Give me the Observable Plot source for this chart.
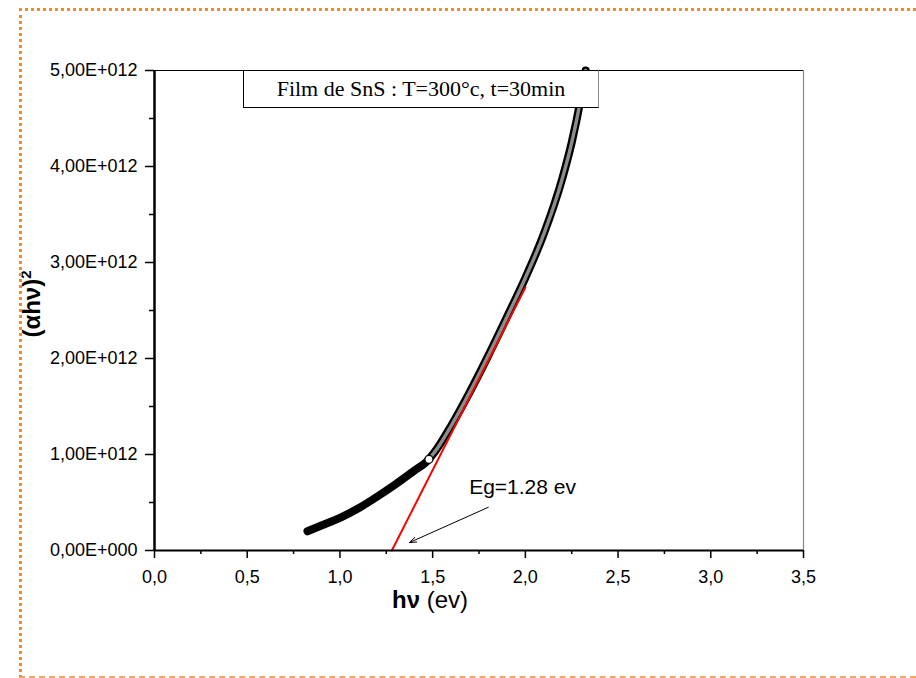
<!DOCTYPE html>
<html>
<head>
<meta charset="utf-8">
<script src="https://cdn.jsdelivr.net/npm/d3@7"></script>
<script src="https://cdn.jsdelivr.net/npm/@observablehq/plot@0.6"></script>
<style>
  html, body { margin: 0; padding: 0; background: white; }
  #wrap { position: relative; width: 916px; height: 678px; overflow: hidden; }
  #frame { position: absolute; left: 19px; top: 8px; width: 897px; height: 670px; box-sizing: border-box;
    border-top: 3px dotted #f28a26; border-left: 3px dotted #f28a26; border-bottom: 2px dashed #f4a668; pointer-events: none; }
  #titlebox { position: absolute; left: 243px; top: 70px; width: 356px; height: 38px; box-sizing: border-box;
    border: 1px solid black; border-right-color: #888; background: white; display: flex; align-items: center; justify-content: center;
    font-family: "Liberation Serif", "Times New Roman", serif; font-size: 22px; color: black; white-space: nowrap; }
  #xlabel { position: absolute; left: 392px; top: 588px; font-family: "Liberation Sans", Arial, sans-serif; font-size: 24px; line-height: 1; white-space: nowrap; color: black; }
  #ylabel { position: absolute; left: 31px; top: 304px; transform: translate(-50%, -50%) rotate(-90deg);
    font-family: "Liberation Sans", Arial, sans-serif; font-size: 24px; font-weight: bold; line-height: 1; white-space: nowrap; color: black; }
  #ylabel sup { font-size: 15px; }
</style>
</head>
<body>
<div id="wrap">
  <div id="chart"></div>
  <div id="titlebox"></div>
  <div id="xlabel"><b>hν</b> (ev)</div>
  <div id="ylabel">(αhν)<sup>2</sup></div>
  <div id="frame"></div>
</div>
<script>
// ---- data ----
const titleText = "Film de SnS : T=300°c, t=30min";

const xTicks = [0, 0.5, 1, 1.5, 2, 2.5, 3, 3.5];
const xTickLabels = ["0,0", "0,5", "1,0", "1,5", "2,0", "2,5", "3,0", "3,5"];
const xMinorTicks = [0.25, 0.75, 1.25, 1.75, 2.25, 2.75, 3.25];

const yTicks = [0, 1e12, 2e12, 3e12, 4e12, 5e12];
const yTickLabels = ["0,00E+000", "1,00E+012", "2,00E+012", "3,00E+012", "4,00E+012", "5,00E+012"];
const yMinorTicks = [0.5e12, 1.5e12, 2.5e12, 3.5e12, 4.5e12];

// measured (alpha h nu)^2 vs h nu — lower branch and upper branch
const lowEnergy = [0.825, 0.90, 1.00, 1.10, 1.20, 1.30, 1.40, 1.47];
const lowValue = [0.20e12, 0.26e12, 0.34e12, 0.44e12, 0.56e12, 0.69e12, 0.83e12, 0.93e12];
const highEnergy = [1.47, 1.52, 1.60, 1.70, 1.80, 1.90, 2.00, 2.10, 2.20, 2.25, 2.30, 2.325];
const highValue = [0.93e12, 1.05e12, 1.30e12, 1.65e12, 2.03e12, 2.43e12, 2.84e12, 3.30e12, 3.88e12, 4.25e12, 4.72e12, 5.00e12];

// linear fit (Tauc extrapolation)
const fitEnergy = [1.28, 2.00];
const fitValue = [0, 2.74e12];

// highlighted open point
const markerEnergy = [1.48];
const markerValue = [0.95e12];

// annotation
const annotationText = ["Eg=1.28 ev"];
const annotationEnergy = [1.985];
const annotationValue = [0.66e12];
const arrowFrom = [1.80, 0.45e12];
const arrowTo = [1.375, 0.083e12];

// ---- build ----
const low = lowEnergy.map((x, i) => ({x, y: lowValue[i]}));
const high = highEnergy.map((x, i) => ({x, y: highValue[i]}));
const curve = low.concat(high.slice(1));
const fit = fitEnergy.map((x, i) => ({x, y: fitValue[i]}));
const marker = markerEnergy.map((x, i) => ({x, y: markerValue[i]}));
const annot = annotationText.map((t, i) => ({t, x: annotationEnergy[i], y: annotationValue[i]}));
const arrows = [{x1: arrowFrom[0], y1: arrowFrom[1], x2: arrowTo[0], y2: arrowTo[1]}];

document.getElementById("titlebox").textContent = titleText;

const chart = Plot.plot({
  width: 916,
  height: 678,
  marginLeft: 154,
  marginRight: 113,
  marginTop: 70,
  marginBottom: 128,
  x: {domain: [0, 3.5]},
  y: {domain: [0, 5e12]},
  style: {fontFamily: '"Liberation Sans", Arial, sans-serif', fontSize: "18px", color: "black", background: "white"},
  marks: [
    Plot.ruleY([5e12], {stroke: "black", strokeWidth: 1}),
    Plot.ruleX([3.5], {stroke: "#888", strokeWidth: 1.2}),
    Plot.line(curve, {x: "x", y: "y", stroke: "black", strokeWidth: 8, strokeLinecap: "round", curve: "monotone-x"}),
    Plot.line(high, {x: "x", y: "y", stroke: "white", strokeWidth: 3.5, strokeOpacity: 0.55, strokeDasharray: "1.2,1.2", curve: "monotone-x"}),
    Plot.line(fit, {x: "x", y: "y", stroke: "red", strokeWidth: 2}),
    Plot.dot(marker, {x: "x", y: "y", r: 4, fill: "white", stroke: "black", strokeWidth: 1.2}),
    Plot.arrow(arrows, {x1: "x1", y1: "y1", x2: "x2", y2: "y2", stroke: "black", strokeWidth: 1, headLength: 11, headAngle: 40}),
    Plot.text(annot, {x: "x", y: "y", text: "t", fontSize: 21, fill: "black", textAnchor: "middle"}),
    Plot.axisX(xTicks, {anchor: "bottom", tickSize: 8, tickPadding: 12, strokeWidth: 1.5, fontSize: 18, label: null,
      tickFormat: d => xTickLabels[xTicks.indexOf(d)]}),
    Plot.axisX(xMinorTicks, {anchor: "bottom", tickSize: 4, strokeWidth: 1.5, label: null, tickFormat: () => ""}),
    Plot.axisY(yTicks, {anchor: "left", tickSize: 9, tickPadding: 8, strokeWidth: 1.5, fontSize: 18, label: null,
      tickFormat: d => yTickLabels[yTicks.indexOf(d)]}),
    Plot.axisY(yMinorTicks, {anchor: "left", tickSize: 5, strokeWidth: 1.5, label: null, tickFormat: () => ""}),
    Plot.ruleY([0], {stroke: "black", strokeWidth: 2}),
    Plot.ruleX([0], {stroke: "black", strokeWidth: 2.5})
  ]
});
document.getElementById("chart").appendChild(chart);
</script>
</body>
</html>
